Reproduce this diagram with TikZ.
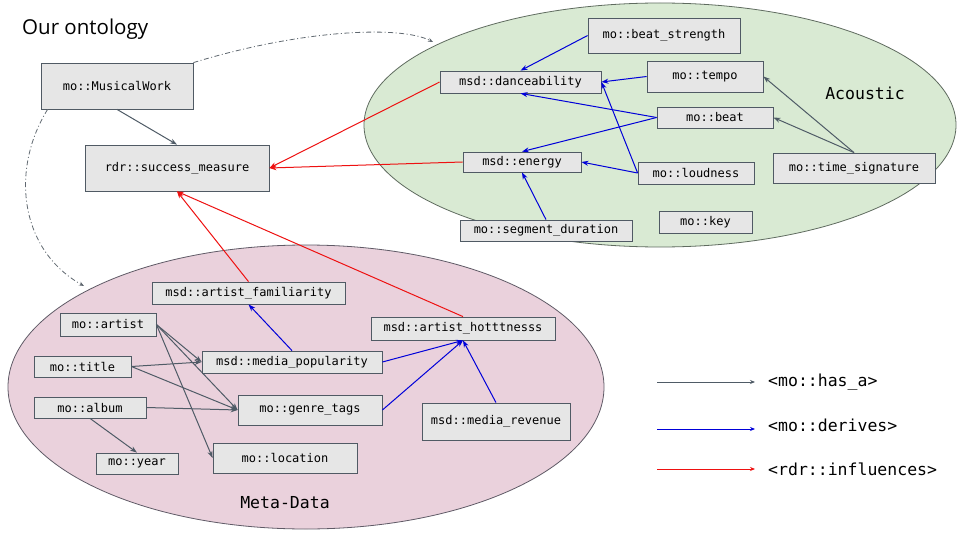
\documentclass[tikz,border=0pt]{standalone}
\usepackage{fontspec}
\setmainfont{Open Sans}
\setmonofont{DejaVu Sans Mono}
\usetikzlibrary{arrows.meta}

\definecolor{boxfill}{HTML}{E6E6E6}
\definecolor{boxline}{HTML}{505A64}
\definecolor{acfill}{HTML}{D9EAD3}
\definecolor{acline}{HTML}{5F6B5F}
\definecolor{mdfill}{HTML}{EAD1DC}
\definecolor{mdline}{HTML}{5F5A66}
\definecolor{hasacol}{HTML}{4F5B66}
\definecolor{derivcol}{HTML}{0000D9}
\definecolor{inflcol}{HTML}{EE1111}
\definecolor{linkcol}{HTML}{606870}

\begin{document}
\begin{tikzpicture}[x=1pt, y=-1pt,
  caja/.style={draw=boxline, line width=0.8pt, fill=boxfill, inner sep=0pt,
    font=\fontsize{12}{14}\selectfont\ttfamily},
  grupo/.style={inner sep=0pt, font=\fontsize{16.5}{20}\selectfont\ttfamily},
  hasa/.style={draw=hasacol, line width=1pt, -{Stealth[length=7pt,width=5pt]}},
  derives/.style={draw=derivcol, line width=1pt, -{Stealth[length=7pt,width=5pt]}},
  influences/.style={draw=inflcol, line width=1pt, -{Stealth[length=7pt,width=5pt]}},
  enlace/.style={draw=linkcol, line width=0.8pt,
    dash pattern=on 5pt off 2.5pt on 1pt off 2.5pt, -{Stealth[length=5pt,width=4pt]}}]
\path[fill=white, use as bounding box] (0,0) rectangle (960,540);

\node[anchor=base west, inner sep=0pt, font=\fontsize{20.5}{24}\selectfont] (titulo) at (22,35) {Our ontology};

%%Las elipses
\draw[draw=acline, line width=0.8pt, fill=acfill] (660,125) ellipse [x radius=296pt, y radius=122pt];
\draw[draw=mdline, line width=0.8pt, fill=mdfill] (306,387) ellipse [x radius=298pt, y radius=142pt];
\node[grupo] (acoustic) at (865,93) {Acoustic};
\node[grupo] (metadata) at (285,503) {Meta-Data};

\node[caja, minimum width=152, minimum height=46] (mwork) at (117,86) {mo::MusicalWork};
\node[caja, minimum width=184, minimum height=46] (success) at (177,168) {rdr::success\_measure};

%%Acoustic
\node[caja, minimum width=152, minimum height=35] (strength) at (664,35.5) {mo::beat\_strength};
\node[caja, minimum width=161, minimum height=22] (dance) at (520.5,82) {msd::danceability};
\node[caja, minimum width=116, minimum height=31] (tempo) at (705,76.5) {mo::tempo};
\node[caja, minimum width=116, minimum height=21] (beat) at (715,117.5) {mo::beat};
\node[caja, minimum width=118, minimum height=20] (energy) at (522,162) {msd::energy};
\node[caja, minimum width=116, minimum height=22] (loud) at (696,173) {mo::loudness};
\node[caja, minimum width=162, minimum height=30] (timesig) at (854,168) {mo::time\_signature};
\node[caja, minimum width=172, minimum height=21] (segdur) at (546,230.5) {mo::segment\_duration};
\node[caja, minimum width=93, minimum height=22] (key) at (705.5,222) {mo::key};

%%Meta-Data
\node[caja, minimum width=193, minimum height=22] (familiar) at (248.5,293) {msd::artist\_familiarity};
\node[caja, minimum width=96, minimum height=23] (artist) at (108,324.5) {mo::artist};
\node[caja, minimum width=184, minimum height=23] (hott) at (463,328.5) {msd::artist\_hotttnesss};
\node[caja, minimum width=97, minimum height=21] (title) at (82.5,366.5) {mo::title};
\node[caja, minimum width=180, minimum height=22] (mediapop) at (292,362) {msd::media\_popularity};
\node[caja, minimum width=112, minimum height=21] (album) at (90,407.5) {mo::album};
\node[caja, minimum width=144, minimum height=30] (genre) at (310,410) {mo::genre\_tags};
\node[caja, minimum width=148, minimum height=37] (revenue) at (496,421.5) {msd::media\_revenue};
\node[caja, minimum width=82, minimum height=21] (year) at (137,463.5) {mo::year};
\node[caja, minimum width=144, minimum height=30] (location) at (285,458) {mo::location};

%%has_a
\draw[hasa] (mwork.south) -- (success.north);
\draw[hasa] (timesig.north) -- (tempo.east);
\draw[hasa] (timesig.north) -- (beat.east);
\draw[hasa] (artist.east) -- (mediapop.west);
\draw[hasa] (artist.east) -- (genre.west);
\draw[hasa] (artist.east) -- (location.west);
\draw[hasa] (title.east) -- (mediapop.west);
\draw[hasa] (title.east) -- (genre.west);
\draw[hasa] (album.east) -- (genre.west);
\draw[hasa] (album.south) -- (year.north);

%%derives
\draw[derives] (strength.west) -- (dance.north);
\draw[derives] (tempo.west) -- (dance.east);
\draw[derives] (beat.west) -- (dance.south);
\draw[derives] (beat.west) -- (energy.north);
\draw[derives] (loud.west) -- (dance.east);
\draw[derives] (loud.west) -- (energy.east);
\draw[derives] (segdur.north) -- (energy.south);
\draw[derives] (mediapop.north) -- (familiar.south);
\draw[derives] (mediapop.east) -- (hott.south);
\draw[derives] (genre.east) -- (hott.south);
\draw[derives] (revenue.north) -- (hott.south);

%%influences
\draw[influences] (dance.west) -- (success.east);
\draw[influences] (energy.west) -- (success.east);
\draw[influences] (familiar.north) -- (success.south);
\draw[influences] (hott.north) -- (success.south);

%%enlaces punteados
\coordinate (acTop) at (433,42);
\coordinate (mdTop) at (84,286);
\draw[enlace] (mwork.north east) .. controls (300,30) and (400,25) .. (acTop);
\draw[enlace] ([xshift=7]mwork.south west) .. controls (10,170) and (20,250) .. (mdTop);

%%Leyenda
\coordinate (ha0) at (657,382);
\coordinate (ha1) at (755,382);
\coordinate (de0) at (657,429);
\coordinate (de1) at (755,429);
\coordinate (in0) at (657,469);
\coordinate (in1) at (755,469);
\draw[hasa, -{Stealth[length=5pt,width=4pt]}] (ha0) -- (ha1);
\draw[derives, -{Stealth[length=5pt,width=4pt]}] (de0) -- (de1);
\draw[influences, -{Stealth[length=5pt,width=4pt]}] (in0) -- (in1);
\node[grupo, anchor=west] (hatxt) at (768,382) {<mo::has\_a>};
\node[grupo, anchor=west] (detxt) at (768,425) {<mo::derives>};
\node[grupo, anchor=west] (intxt) at (768,469) {<rdr::influences>};
\end{tikzpicture}
\end{document}
